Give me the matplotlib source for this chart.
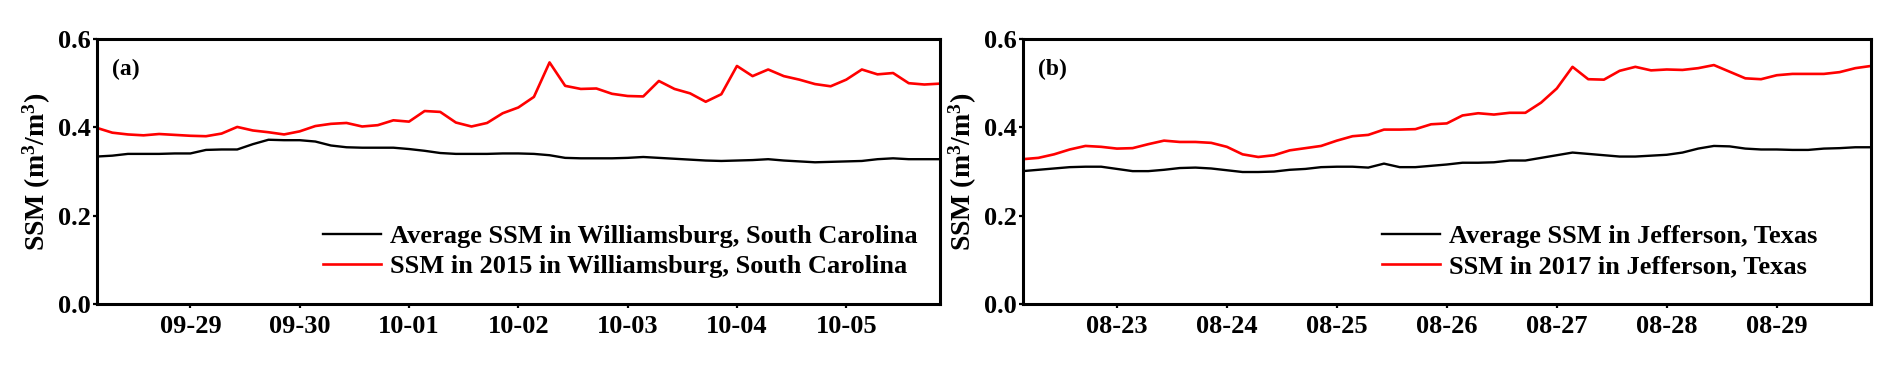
#!/usr/bin/env python

import numpy as np
import matplotlib
matplotlib.use('Agg')
import matplotlib.pyplot as plt

from matplotlib import rcParams
rcParams['font.family'] = 'serif'
rcParams['font.serif'] = ['Liberation Serif', 'DejaVu Serif']
rcParams['font.weight'] = 'bold'
rcParams['axes.labelweight'] = 'bold'
rcParams['mathtext.fontset'] = 'custom'
rcParams['mathtext.rm'] = 'Liberation Serif:bold'
rcParams['mathtext.bf'] = 'Liberation Serif:bold'
rcParams['mathtext.it'] = 'Liberation Serif:bold'

# samples are 7 per day, first sample 6 steps before the first labelled day
steps_per_day = 7
first_step = -6

# (a) Williamsburg, South Carolina
ticks_a = ['09-29', '09-30', '10-01', '10-02', '10-03', '10-04', '10-05']
avg_a = [0.334, 0.336, 0.340, 0.340, 0.340, 0.341, 0.341, 0.349, 0.350, 0.350,
         0.362, 0.372, 0.371, 0.371, 0.368, 0.359, 0.355, 0.354, 0.354, 0.354,
         0.351, 0.347, 0.342, 0.340, 0.340, 0.340, 0.341, 0.341, 0.340, 0.337,
         0.331, 0.330, 0.330, 0.330, 0.331, 0.333, 0.331, 0.329, 0.327, 0.325,
         0.324, 0.325, 0.326, 0.328, 0.325, 0.323, 0.321, 0.322, 0.323, 0.324,
         0.328, 0.330, 0.328, 0.328, 0.328]
ssm_2015 = [0.399, 0.388, 0.384, 0.382, 0.385, 0.383, 0.381, 0.380, 0.386, 0.401,
            0.393, 0.389, 0.384, 0.391, 0.403, 0.408, 0.410, 0.402, 0.405, 0.416,
            0.413, 0.437, 0.435, 0.411, 0.402, 0.410, 0.432, 0.445, 0.469, 0.547,
            0.494, 0.487, 0.488, 0.476, 0.471, 0.470, 0.505, 0.487, 0.477, 0.458,
            0.475, 0.539, 0.516, 0.531, 0.516, 0.508, 0.498, 0.493, 0.508, 0.531,
            0.520, 0.523, 0.500, 0.497, 0.499]
labels_a = ['Average SSM in Williamsburg, South Carolina',
            'SSM in 2015 in Williamsburg, South Carolina']

# (b) Jefferson, Texas
ticks_b = ['08-23', '08-24', '08-25', '08-26', '08-27', '08-28', '08-29']
avg_b = [0.301, 0.304, 0.307, 0.310, 0.311, 0.311, 0.306, 0.301, 0.301, 0.304,
         0.308, 0.309, 0.307, 0.303, 0.299, 0.299, 0.300, 0.304, 0.306, 0.310,
         0.311, 0.311, 0.309, 0.318, 0.310, 0.310, 0.313, 0.316, 0.320, 0.320,
         0.321, 0.325, 0.325, 0.331, 0.337, 0.343, 0.340, 0.337, 0.334, 0.334,
         0.336, 0.338, 0.343, 0.352, 0.358, 0.357, 0.352, 0.350, 0.350, 0.349,
         0.349, 0.352, 0.353, 0.355, 0.355]
ssm_2017 = [0.328, 0.331, 0.339, 0.350, 0.358, 0.356, 0.352, 0.353, 0.362, 0.370,
            0.367, 0.367, 0.365, 0.356, 0.339, 0.333, 0.337, 0.348, 0.353, 0.358,
            0.370, 0.380, 0.383, 0.395, 0.395, 0.396, 0.407, 0.409, 0.427, 0.432,
            0.429, 0.433, 0.433, 0.456, 0.488, 0.537, 0.509, 0.508, 0.528, 0.537,
            0.529, 0.531, 0.530, 0.534, 0.541, 0.526, 0.511, 0.509, 0.518, 0.521,
            0.521, 0.521, 0.525, 0.534, 0.539]
labels_b = ['Average SSM in Jefferson, Texas',
            'SSM in 2017 in Jefferson, Texas']


def draw_panel(ax, avg, ssm, ticks, labels, tag, leg_x):
    t = (np.arange(len(avg)) + first_step) / float(steps_per_day)
    ax.plot(t, avg, color='k', linewidth=1.7, label=labels[0])
    ax.plot(t, ssm, color='#ff0000', linewidth=1.9, label=labels[1])

    ax.set_xlim(t[0], t[-1])
    ax.set_ylim(0, 0.6)
    ax.set_xticks(np.arange(len(ticks)))
    ax.set_xticklabels(ticks)
    ax.set_yticks([0.0, 0.2, 0.4, 0.6])
    ax.set_yticklabels(['0.0', '0.2', '0.4', '0.6'])
    ax.tick_params(direction='out', length=3, width=1.6, labelsize=19)
    ax.tick_params(axis='x', pad=5)
    ax.tick_params(axis='y', pad=1.5)
    for s in ax.spines.values():
        s.set_linewidth(2.2)

    ax.set_ylabel(r'SSM (m$^{3}$/m$^{3}$)', fontsize=20, fontweight='bold',
                  labelpad=3)
    ax.text(0.035, 0.887, tag, transform=ax.transAxes, fontsize=17,
            fontweight='bold', ha='center', va='center')
    ax.legend(loc='center left', bbox_to_anchor=(leg_x, 0.198), frameon=False,
              prop={'size': 19, 'weight': 'bold'}, handlelength=2.2,
              handletextpad=0.35, labelspacing=0.25, borderpad=0,
              borderaxespad=0)


fig = plt.figure(figsize=(18.92, 3.70), dpi=100)
ax1 = fig.add_axes([0.0511, 0.178, 0.4457, 0.7166])
ax2 = fig.add_axes([0.5405, 0.178, 0.4484, 0.7166])

draw_panel(ax1, avg_a, ssm_2015, ticks_a, labels_a, '(a)', 0.268)
draw_panel(ax2, avg_b, ssm_2017, ticks_b, labels_b, '(b)', 0.4236)

plt.savefig('out.png', dpi=100)
